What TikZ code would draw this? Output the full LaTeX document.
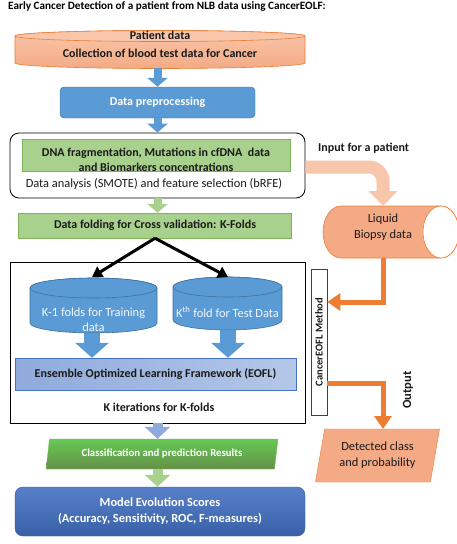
\documentclass[tikz,border=0pt]{standalone}
\usepackage{fontspec}
\setmainfont{Carlito}
\usepackage{xcolor}
\usepackage{tikz}
\usetikzlibrary{arrows.meta,shapes.geometric}
\definecolor{saumon}{HTML}{F4AA85}
\definecolor{saumonclair}{HTML}{F8C6AA}
\definecolor{orangefonce}{HTML}{ED7D31}
\definecolor{bleu}{HTML}{5B9BD5}
\definecolor{bleufonce}{HTML}{41719C}
\definecolor{vert}{HTML}{A9D18E}
\definecolor{vertfonce}{HTML}{7EB35A}
\definecolor{lavande}{HTML}{8FAADC}
\definecolor{lavandeclair}{HTML}{B4C7E7}
\definecolor{royal}{HTML}{4472C4}
\definecolor{royalfonce}{HTML}{2F5597}
\definecolor{encre}{HTML}{1A1A1A}

\begin{document}
\begin{tikzpicture}[x=1pt,y=-1pt]
% Styles
\tikzstyle{boite}=[rectangle,draw,inner sep=0pt]
\tikzstyle{gras}=[font=\bfseries\fontsize{12}{14.5}\selectfont,align=center,inner sep=0pt,text=encre]
\tikzstyle{normal}=[font=\fontsize{12.4}{15}\selectfont,align=center,inner sep=0pt,text=encre]
\tikzstyle{bloc}=[line width=8pt,-{Triangle[width=20pt,length=9pt]}]
\tikzstyle{grosbloc}=[draw=bleu,line width=16pt,-{Triangle[width=33pt,length=15pt]}]
\tikzstyle{fleche}=[line width=3pt,-{Triangle[width=12pt,length=10pt]}]
\tikzstyle{sortie}=[draw=orangefonce,line width=5pt,-{Triangle[width=17pt,length=13pt]}]
\tikzstyle{cylindre}=[draw=bleufonce,fill=bleu,line width=0.6pt]
\fill[white] (0,0) rectangle (456,544);
\useasboundingbox (0,0) rectangle (456,544);
% Title
\node[font=\bfseries\fontsize{11.2}{13}\selectfont,anchor=west,inner sep=0pt] (titre) at (8,7) {Early Cancer Detection of a patient from NLB data using CancerEOLF:};
% Patient data
\path[draw=orangefonce,top color=saumonclair,bottom color=saumon,line width=0.6pt] (15,36) -- (15,63) arc[start angle=180,end angle=360,x radius=145pt,y radius=5.5pt] -- (305,36) arc[start angle=0,end angle=180,x radius=145pt,y radius=5.5pt] -- cycle;
\draw[draw=orangefonce,fill=saumonclair,line width=0.6pt] (160,36) ellipse[x radius=145pt,y radius=5.5pt];
\node[gras,font=\bfseries\fontsize{12}{18}\selectfont] (patient) at (160,44) {Patient data\\Collection of blood test data for Cancer};
\coordinate (patbas) at (157.5,68);
% Left column
\node[boite,gras,text=white,rounded corners=4pt,fill=bleu,draw=bleufonce,minimum width=195pt,minimum height=31pt] (prep) at (157.5,102.5) {Data preprocessing};
\node[boite,rounded corners=9pt,draw=black,fill=white,line width=0.8pt,minimum width=295pt,minimum height=65pt] (analyse) at (157.5,165.5) {};
\node[boite,fill=vert,draw=vertfonce,minimum width=268pt,minimum height=32pt] (dna) at (156,155.5) {};
\node[gras] (dnatxt) at (156,160) {DNA fragmentation, Mutations in cfDNA \ data\\and Biomarkers concentrations};
\node[normal] (analysetxt) at (154,184) {Data analysis (SMOTE) and feature selection (bRFE)};
\node[boite,gras,fill=vert,draw=vertfonce,minimum width=273pt,minimum height=25pt] (fold) at (155,225.5) {Data folding for Cross validation: K-Folds};
\node[boite,draw=black,line width=0.8pt,fill=white,minimum width=295pt,minimum height=161pt] (kiter) at (157.5,342.5) {};
\node[gras] (kitertxt) at (159,407) {K iterations for K-folds};
% Cylinders
\path[cylindre] (30,288) -- (30,323) arc[start angle=180,end angle=360,x radius=63.5pt,y radius=10pt] -- (157,288) arc[start angle=0,end angle=180,x radius=63.5pt,y radius=10pt] -- cycle;
\draw[cylindre] (93.5,288) ellipse[x radius=63.5pt,y radius=10pt];
\path[cylindre] (173,287) -- (173,320) arc[start angle=180,end angle=360,x radius=54.5pt,y radius=10pt] -- (282,287) arc[start angle=0,end angle=180,x radius=54.5pt,y radius=10pt] -- cycle;
\draw[cylindre] (227.5,287) ellipse[x radius=54.5pt,y radius=10pt];
\node[normal,text=white!92!bleu] (entrainement) at (93.5,319.5) {K-1 folds for Training\\data};
\node[normal,text=white!92!bleu] (test) at (227.5,312) {K\textsuperscript{th} fold for Test Data};
\coordinate (k1haut) at (92,277);
\coordinate (k1bas) at (92,333);
\coordinate (kthaut) at (228,277);
\coordinate (kbas) at (228,330);
\node[boite,gras,left color=lavande,right color=lavandeclair,draw=royal,minimum width=281pt,minimum height=32pt] (eofl) at (155.5,374) {Ensemble Optimized Learning Framework (EOFL)};
% Bottom
\node[trapezium,trapezium left angle=75,trapezium right angle=105,trapezium stretches=true,draw=vertfonce,top color=vert!85!black!70!green,bottom color=vertfonce!80!black,minimum width=232pt,minimum height=30pt,inner sep=0pt,font=\bfseries\fontsize{10.8}{13}\selectfont,text=white] (classif) at (162,454) {Classification and prediction Results};
\node[boite,rounded corners=8pt,draw=royalfonce,top color=royal!90!white,bottom color=royal!85!black,minimum width=290pt,minimum height=49pt,gras,font=\bfseries\fontsize{12.4}{16}\selectfont,text=white] (modele) at (160,511.5) {Model Evolution Scores\\(Accuracy, Sensitivity, ROC, F-measures)};
% Right column
\node[gras,anchor=west] (entree) at (318,148) {Input for a patient};
\path[draw=orangefonce,fill=saumon,line width=0.6pt] (441,206) -- (341,206) arc[start angle=90,end angle=270,x radius=18pt,y radius=26pt] -- (441,258) arc[start angle=270,end angle=450,x radius=18pt,y radius=26pt] -- cycle;
\draw[draw=orangefonce,fill=white,line width=0.6pt] (441,232) ellipse[x radius=18pt,y radius=26pt];
\node[normal,font=\fontsize{12.4}{16}\selectfont] (liquide) at (383,227) {Liquid\\Biopsy data};
\coordinate (liqhaut) at (383,206);
\coordinate (liqbas) at (383,258);
\node[boite,draw=black!75,fill=white,line width=0.7pt,minimum width=16pt,minimum height=146pt] (methode) at (319,342) {};
\node[gras,rotate=90,font=\bfseries\fontsize{10.5}{12}\selectfont] (methodetxt) at (methode.center) {CancerEOFL Method};
\node[gras,rotate=90,font=\bfseries\fontsize{12.5}{14}\selectfont] (sortietxt) at (408,390) {Output};
\node[trapezium,trapezium left angle=76,trapezium right angle=104,trapezium stretches=true,draw=orangefonce,fill=saumon,minimum width=125pt,minimum height=53pt,inner sep=0pt,normal,font=\fontsize{12.4}{16}\selectfont] (detecte) at (377.5,455.5) {Detected class\\and probability};
% Arrows
\draw[bloc,draw=bleu] (patbas) -- (prep.north);
\draw[bloc,draw=bleu] (prep.south) -- (analyse.north);
\draw[bloc,draw=vert] (analyse.south) -- (analyse.south |- fold.north);
\draw[fleche] (fold.south) -- (k1haut);
\draw[fleche] (fold.south) -- (kthaut);
\draw[grosbloc] (k1bas) -- (k1bas |- eofl.north);
\draw[grosbloc] (kbas) -- (kbas |- eofl.north);
\draw[bloc,draw=lavande,line width=10pt,-{Triangle[width=25pt,length=12pt]}] (kiter.south) -- (kiter.south |- classif.north);
\draw[bloc,draw=vert,line width=10pt,-{Triangle[width=25pt,length=12pt]}] (kiter.south |- classif.south) -- (kiter.south |- modele.north);
\draw[draw=saumonclair,line width=13pt,rounded corners=14pt,-{Triangle[width=28pt,length=15pt]}] (analyse.east |- 0,167) -| (liqhaut);
\draw[sortie] (liqbas) |- ([yshift=40pt]methode.east);
\draw[sortie] ([yshift=-41pt]methode.east) -| (383,429);
\end{tikzpicture}
\end{document}
